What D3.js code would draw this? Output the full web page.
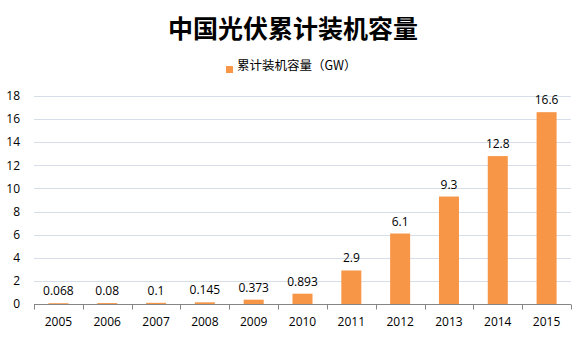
<!DOCTYPE html>
<html>
<head>
<meta charset="utf-8">
<script src="https://cdn.jsdelivr.net/npm/d3@7"></script>
<style>
  html, body { margin: 0; padding: 0; background: #fff; }
  svg { display: block; }
</style>
</head>
<body>
<svg id="chart" width="582" height="346"></svg>
<script>
// Cumulative installed PV capacity in China, GW
const years = ["2005", "2006", "2007", "2008", "2009", "2010", "2011", "2012", "2013", "2014", "2015"];
const capacity = [0.068, 0.08, 0.1, 0.145, 0.373, 0.893, 2.9, 6.1, 9.3, 12.8, 16.6];
const capacityLabels = ["0.068", "0.08", "0.1", "0.145", "0.373", "0.893", "2.9", "6.1", "9.3", "12.8", "16.6"];
const yTicks = [0, 2, 4, 6, 8, 10, 12, 14, 16, 18];
const title = "中国光伏累计装机容量";
const seriesName = "累计装机容量（GW）";

const svg = d3.select("#chart");
const margin = { left: 34, right: 11, top: 96, bottom: 42 };
const W = 582, H = 346;
const fontFam = "'Noto Sans CJK SC', 'Open Sans', sans-serif";
const numFont = "'Open Sans', sans-serif";

const x = d3.scaleBand().domain(years).range([margin.left, W - margin.right]).paddingInner(0.59).paddingOuter(0.295);
const xCat = d3.scaleBand().domain(years).range([margin.left, W - margin.right]);
const y = d3.scaleLinear().domain([0, 18]).range([H - margin.bottom, margin.top]);

// gridlines
svg.append("g").selectAll("line").data(yTicks.filter(d => d > 0)).join("line")
  .attr("x1", margin.left).attr("x2", W - margin.right)
  .attr("y1", d => Math.round(y(d)) + 0.5).attr("y2", d => Math.round(y(d)) + 0.5)
  .attr("stroke", "#D6DEEA").attr("stroke-width", 1);

// y tick labels
svg.append("g").selectAll("text").data(yTicks).join("text")
  .attr("x", 20).attr("y", d => y(d)).attr("dy", "0.35em")
  .attr("text-anchor", "end")
  .attr("font-family", numFont).attr("font-size", 12).attr("fill", "#000")
  .text(d => d);

// bars
svg.append("g").selectAll("rect").data(years).join("rect")
  .attr("x", d => x(d)).attr("width", x.bandwidth())
  .attr("y", (d, i) => y(capacity[i])).attr("height", (d, i) => y(0) - y(capacity[i]))
  .attr("fill", "#F79646");

// x axis
const axisY = Math.round(y(0)) + 0.5;
const ax = svg.append("g").attr("stroke", "#868686").attr("stroke-width", 1);
ax.append("line").attr("x1", margin.left).attr("x2", W - margin.right).attr("y1", axisY).attr("y2", axisY);
const tickXs = years.map(d => xCat(d)).concat([W - margin.right]);
ax.selectAll("line.tick").data(tickXs).join("line").attr("class", "tick")
  .attr("x1", d => Math.round(d) + 0.5).attr("x2", d => Math.round(d) + 0.5)
  .attr("y1", axisY).attr("y2", axisY + 5);

// x labels
svg.append("g").selectAll("text").data(years).join("text")
  .attr("x", d => xCat(d) + xCat.bandwidth() / 2).attr("y", 322).attr("dy", "0.35em")
  .attr("text-anchor", "middle")
  .attr("font-family", numFont).attr("font-size", 12).attr("fill", "#000")
  .text(d => d);

// value labels
svg.append("g").selectAll("text").data(years).join("text")
  .attr("x", d => x(d) + x.bandwidth() / 2)
  .attr("y", (d, i) => y(capacity[i]) - 8)
  .attr("text-anchor", "middle")
  .attr("font-family", numFont).attr("font-size", 12).attr("fill", "#000")
  .text((d, i) => capacityLabels[i]);

// title
svg.append("text").attr("x", 293).attr("y", 29).attr("dy", "0.35em")
  .attr("text-anchor", "middle").attr("font-family", fontFam)
  .attr("font-size", 25).attr("font-weight", "bold").attr("fill", "#000")
  .text(title);

// legend
const leg = svg.append("g");
leg.append("rect").attr("x", 226).attr("y", 66).attr("width", 7).attr("height", 7).attr("fill", "#F79646");
leg.append("text").attr("x", 237).attr("y", 66).attr("dy", "0.35em")
  .attr("font-family", fontFam).attr("font-size", 12.5).attr("fill", "#000")
  .text(seriesName);
</script>
</body>
</html>
